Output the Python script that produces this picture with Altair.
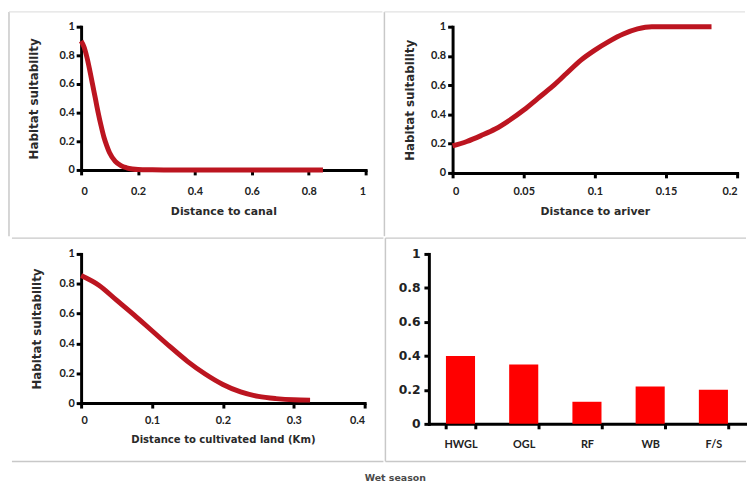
import altair as alt
import pandas as pd

# ---- data ----
canal_x = [0, 0.01, 0.02, 0.03, 0.04, 0.05, 0.06, 0.07, 0.08, 0.09, 0.10, 0.12, 0.14,
           0.16, 0.18, 0.20, 0.25, 0.30, 0.40, 0.50, 0.60, 0.70, 0.85]
canal_y = [0.90, 0.86, 0.79, 0.70, 0.60, 0.50, 0.40, 0.31, 0.23, 0.17, 0.12, 0.06, 0.03,
           0.015, 0.007, 0.003, 0.001, 0, 0, 0, 0, 0, 0]

river_x = [0, 0.01, 0.02, 0.03, 0.04, 0.05, 0.06, 0.07, 0.08, 0.09, 0.10, 0.11, 0.12,
           0.13, 0.14, 0.16, 0.182]
river_y = [0.185, 0.215, 0.255, 0.30, 0.36, 0.43, 0.51, 0.59, 0.68, 0.77, 0.84, 0.90, 0.95,
           0.985, 1.0, 1.0, 1.0]

cult_x = [0, 0.025, 0.05, 0.075, 0.1, 0.125, 0.15, 0.175, 0.2, 0.225, 0.25, 0.275, 0.3, 0.323]
cult_y = [0.855, 0.79, 0.69, 0.59, 0.485, 0.38, 0.28, 0.195, 0.125, 0.075, 0.045, 0.03, 0.022, 0.02]

land_classes = ["HWGL", "OGL", "RF", "WB", "F/S"]
land_values = [0.40, 0.35, 0.13, 0.22, 0.20]

y_ticks = [0, 0.2, 0.4, 0.6, 0.8, 1]
canal_ticks = [0, 0.2, 0.4, 0.6, 0.8, 1]
river_ticks = [0, 0.05, 0.1, 0.15, 0.2]
cult_ticks = [0, 0.1, 0.2, 0.3, 0.4]

LINE_COLOR = "#BC1520"
BAR_COLOR = "#FF0000"
BORDER = "#c8c8c8"
LABEL_FONT = "Lato"
TITLE_FONT = "DejaVu Sans"

one = pd.DataFrame({"d": [0]})


def hline(y, x1, x2, color=BORDER, w=1.5):
    return alt.Chart(one).mark_rule(color=color, strokeWidth=w).encode(
        x=alt.value(x1), x2=alt.value(x2), y=alt.value(y))


def vline(x, y1, y2, color=BORDER, w=1.5):
    return alt.Chart(one).mark_rule(color=color, strokeWidth=w).encode(
        x=alt.value(x), y=alt.value(y1), y2=alt.value(y2))


def curve(xs, ys, xdom, xticks, xtitle, w, h, label_pad, ytitle_pad, xtitle_size=11):
    df = pd.DataFrame({"x": xs, "y": ys})
    return alt.Chart(df).mark_line(color=LINE_COLOR, strokeWidth=5,
                                   interpolate="monotone").encode(
        x=alt.X("x:Q", scale=alt.Scale(domain=xdom, nice=False, zero=False),
                axis=alt.Axis(values=xticks, format="~g", title=xtitle,
                              labelPadding=label_pad, titlePadding=9,
                              titleFontSize=xtitle_size)),
        y=alt.Y("y:Q", scale=alt.Scale(domain=[0, 1], nice=False),
                axis=alt.Axis(values=y_ticks, format="~g", title="Habitat suitability",
                              labelPadding=2, minExtent=22, maxExtent=22,
                              titlePadding=ytitle_pad, titleFontSize=12)),
    ).properties(width=w, height=h)


# Panel A (top-left)
pa = curve(canal_x, canal_y, [0, 1], canal_ticks, "Distance to canal", 288, 145, 11, 19)
A = alt.layer(
    vline(-73, -15, 212),
    hline(-15, -73, 305, color="#e2e2e2"),
    pa,
)

# Panel B (top-right)
pb = curve(river_x, river_y, [0, 0.2], river_ticks, "Distance to ariver", 288, 148, 8, 15)
B = alt.layer(
    vline(-69, -15, 212),
    hline(-15, -69, 296, color="#e2e2e2"),
    pb,
)

# Panel C (bottom-left)
pc = curve(cult_x, cult_y, [0, 0.4], cult_ticks, "Distance to cultivated land (Km)",
           287, 151, 7, 16, xtitle_size=10.2)
C = alt.layer(
    hline(-16, -70, 306),
    hline(210, -70, 306),
    pc,
)

# Panel D (bottom-right) bars
bar_df = pd.DataFrame({"cls": land_classes, "val": land_values})
pd_bars = alt.Chart(bar_df).mark_bar(color=BAR_COLOR).encode(
    x=alt.X("cls:N", sort=land_classes,
            scale=alt.Scale(paddingInner=0.54, paddingOuter=0.27),
            axis=alt.Axis(title=None, labelAngle=0, tickBand="extent",
                          labelPadding=10, labelFontSize=11)),
    y=alt.Y("val:Q", scale=alt.Scale(domain=[0, 1], nice=False),
            axis=alt.Axis(values=y_ticks, format="~g", title=None,
                          labelPadding=4, labelFont=TITLE_FONT, labelFontSize=12.5)),
).properties(width=320, height=172)
D = alt.layer(
    hline(-16, -44, 321),
    hline(210, -44, 321),
    vline(-44, -16, 210),
    pd_bars,
)

row1 = alt.hconcat(A, B, spacing=0)
row2 = alt.hconcat(C, D, spacing=0)

chart = alt.vconcat(row1, row2, spacing=0).properties(
    padding={"left": 0, "top": 0, "right": 0, "bottom": 2},
    title=alt.TitleParams("Wet season", orient="bottom", anchor="middle", dx=18,
                          offset=11, fontSize=9.5, font=TITLE_FONT, fontWeight="bold",
                          color="#4a4a4a"),
).configure_view(stroke=None).configure_axis(
    domainColor="black", domainWidth=3, domainCap="square",
    tickColor="black", tickWidth=3, tickSize=5,
    labelFont=LABEL_FONT, labelFontWeight="bold", labelFontSize=11, labelColor="#222222",
    titleFont=TITLE_FONT, titleFontWeight="bold", titleFontSize=11, titleColor="#2a2a2a",
    grid=False, zindex=1,
)

chart.save("out.html", embed_options={"renderer": "svg", "actions": False})
